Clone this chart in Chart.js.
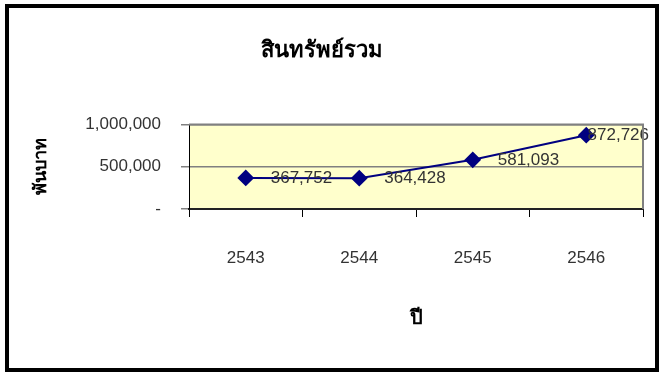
<!DOCTYPE html>
<html>
<head>
<meta charset="utf-8">
<script src="https://cdn.jsdelivr.net/npm/chart.js@4"></script>
<style>
  body { margin: 0; background: #fff; }
  #wrap { position: relative; width: 659px; height: 372px; }
  #frame { position: absolute; left: 5px; top: 4px; right: 0; bottom: 0; border: 4px solid #000; pointer-events: none; }
</style>
</head>
<body>
<div id="wrap">
  <canvas id="mycanvas" width="659" height="372"></canvas>
  <div id="frame"></div>
</div>
<script>
// data
var years = ['2543', '2544', '2545', '2546'];
var assets = [367752, 364428, 581093, 872726];
var yTicks = [0, 500000, 1000000];

var chartTitle = 'สินทรัพย์รวม';
var xTitle = 'ปี';
var yTitle = 'พันบาท';

var fontFam = '"Liberation Sans", Arial, sans-serif';

function fmt(v) {
    if (v === 0) return '-';
    return v.toLocaleString('en-US');
}

// yellow plot background + grey frame
var plotBg = {
    id: 'plotBg',
    beforeDraw: function(chart) {
        var a = chart.chartArea, ctx = chart.ctx;
        ctx.save();
        ctx.fillStyle = '#FFFFCC';
        ctx.fillRect(a.left, a.top, a.right - a.left, a.bottom - a.top);
        ctx.restore();
    },
    afterDraw: function(chart) {
        var a = chart.chartArea, ctx = chart.ctx;
        ctx.save();
        ctx.strokeStyle = '#808080';
        ctx.lineWidth = 2;
        ctx.beginPath();
        ctx.moveTo(a.left, a.top);
        ctx.lineTo(a.right, a.top);
        ctx.lineTo(a.right, a.bottom);
        ctx.stroke();
        ctx.restore();
    }
};

// value labels to the right of each point
var valueLabels = {
    id: 'valueLabels',
    afterDatasetsDraw: function(chart) {
        var ctx = chart.ctx;
        var meta = chart.getDatasetMeta(0);
        ctx.save();
        ctx.font = '17px ' + fontFam;
        ctx.fillStyle = '#333';
        ctx.textBaseline = 'middle';
        ctx.textAlign = 'left';
        meta.data.forEach(function(pt, i) {
            var txt = fmt(chart.data.datasets[0].data[i]);
            var w = ctx.measureText(txt).width;
            var x = pt.x + 25;
            if (x + w > 649) x = 649 - w;
            ctx.fillText(txt, x, pt.y);
        });
        ctx.restore();
    }
};

var ctx = document.getElementById('mycanvas');
var myChart = new Chart(ctx, {
    type: 'line',
    data: {
        labels: years,
        datasets: [{
            label: chartTitle,
            data: assets,
            borderColor: '#000080',
            backgroundColor: '#000080',
            borderWidth: 2,
            pointStyle: 'rectRot',
            pointRadius: 7,
            pointHoverRadius: 7,
            tension: 0,
            clip: false
        }]
    },
    options: {
        responsive: false,
        animation: false,
        devicePixelRatio: 1,
        layout: { padding: { left: 0, right: 16, top: 0, bottom: 0 } },
        plugins: {
            legend: { display: false },
            tooltip: { enabled: false },
            title: {
                display: true,
                text: chartTitle,
                color: '#000',
                font: { family: fontFam, size: 22, weight: 'bold' },
                padding: { top: 38, bottom: 60 }
            }
        },
        scales: {
            x: {
                offset: true,
                grid: {
                    offset: true,
                    drawOnChartArea: false,
                    drawTicks: true,
                    tickLength: 8,
                    color: '#000'
                },
                border: { color: '#222', width: 2 },
                ticks: {
                    color: '#333',
                    padding: 31,
                    maxRotation: 0,
                    font: { family: fontFam, size: 17 }
                },
                title: {
                    display: true,
                    text: xTitle,
                    color: '#000',
                    font: { family: fontFam, size: 20, weight: 'bold' },
                    padding: { top: 0, bottom: 42 }
                },
                afterFit: function(s) { s.height = 163; }
            },
            y: {
                min: 0,
                max: 1000000,
                afterBuildTicks: function(s) {
                    s.ticks = yTicks.map(function(v) { return { value: v }; });
                },
                grid: {
                    color: '#808080',
                    lineWidth: 1.5,
                    drawTicks: true,
                    tickLength: 8
                },
                border: { color: '#000', width: 1 },
                ticks: {
                    color: '#333',
                    padding: 20,
                    font: { family: fontFam, size: 17 },
                    callback: function(v) { return fmt(v); }
                },
                title: {
                    display: true,
                    text: yTitle,
                    color: '#000',
                    font: { family: fontFam, size: 18, weight: 'bold' },
                    padding: { top: 30, bottom: 0 }
                },
                afterFit: function(s) { s.width = 189; }
            }
        }
    },
    plugins: [plotBg, valueLabels]
});
</script>
</body>
</html>
